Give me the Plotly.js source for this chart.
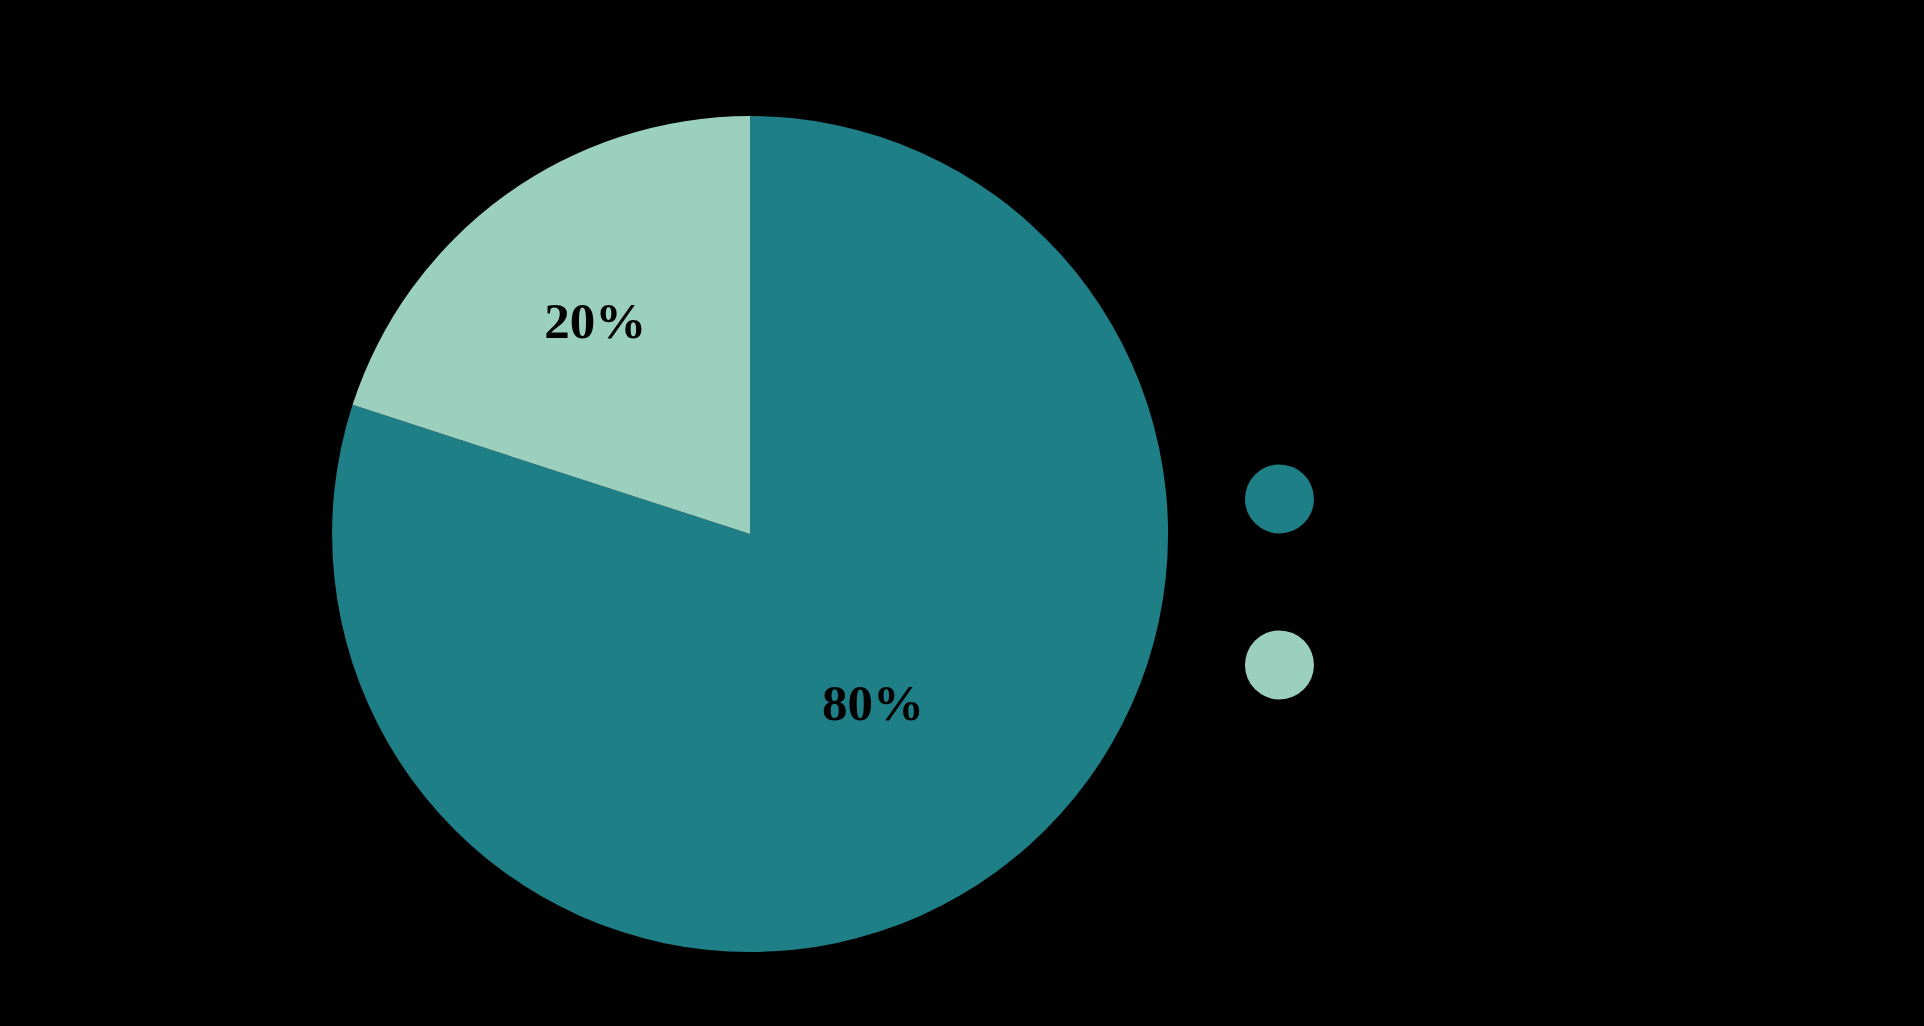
<!DOCTYPE html>
<html>
<head>
<meta charset="utf-8">
<script src="https://cdn.plot.ly/plotly-3.0.1.min.js"></script>
<style>html,body{margin:0;padding:0;background:#000;}#chart{width:1924px;height:1026px;}</style>
</head>
<body>
<div id="chart"></div>
<script>
// Data (slice order as drawn, clockwise from 12 o'clock)
const categories = ["Category A", "Category B"];
const values = [80, 20];
const colors = ["#1F7F87", "#9BD0BF"];
// Legend order (top to bottom)
const legendLabels = ["Category A", "Category B"];
const legendColors = ["#1F7F87", "#9BD0BF"];
const legendPos = [1, 0];

const serif = "'Liberation Serif', 'Times New Roman', Times, serif";

const pie = {
  type: "pie",
  labels: categories,
  values: values,
  marker: {colors: colors, line: {width: 0}},
  sort: false,
  direction: "clockwise",
  rotation: 0,
  textinfo: "percent",
  texttemplate: "%{percent:.0%}",
  textposition: "inside",
  insidetextorientation: "horizontal",
  textfont: {family: serif, size: 51, color: "#000", weight: "bold"},
  domain: {x: [0.1726, 0.6071], y: [0.0721, 0.8869]},
  showlegend: false,
  hoverinfo: "none"
};

const legend = {
  type: "scatter",
  mode: "markers+text",
  x: legendPos.map(() => 0),
  y: legendPos,
  text: legendLabels.map(s => "   " + s),
  textposition: "middle right",
  textfont: {family: serif, size: 40, color: "#000"},
  marker: {size: 69, color: legendColors, line: {width: 0}},
  xaxis: "x",
  yaxis: "y",
  showlegend: false,
  hoverinfo: "none",
  cliponaxis: false
};

const layout = {
  width: 1924,
  height: 1026,
  margin: {l: 0, r: 0, t: 0, b: 0},
  paper_bgcolor: "#000",
  plot_bgcolor: "#000",
  showlegend: false,
  xaxis: {domain: [0.64, 0.69], range: [-1, 1], visible: false, fixedrange: true},
  yaxis: {domain: [0.3519, 0.5137], range: [0, 1], visible: false, fixedrange: true}
};

Plotly.newPlot("chart", [pie, legend], layout, {displayModeBar: false, staticPlot: true});
</script>
</body>
</html>
